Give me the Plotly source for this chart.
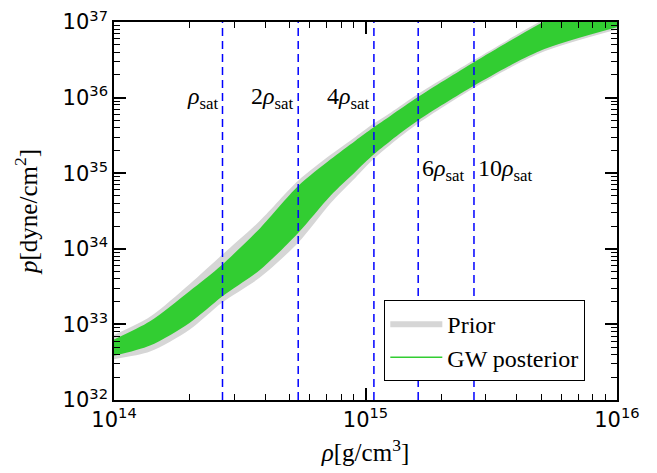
import numpy as np
import plotly.graph_objects as go

# log10 of density [g/cm^3] grid
log_rho = [14.0, 14.143, 14.3, 14.43, 14.58, 14.732, 14.86, 14.96, 15.03, 15.10, 15.21, 15.433, 15.695, 16.0]
# GW posterior band (log10 p, dyne/cm^2)
gw_upper = [32.80, 33.04, 33.44, 33.79, 34.27, 34.83, 35.18, 35.43, 35.60, 35.76, 36.01, 36.47, 36.98, 37.50]
gw_lower = [32.585, 32.72, 33.02, 33.37, 33.72, 34.21, 34.70, 35.02, 35.24, 35.43, 35.70, 36.16, 36.62, 36.93]
# Prior band
prior_upper = [32.86, 33.10, 33.53, 33.92, 34.37, 34.90, 35.24, 35.48, 35.65, 35.80, 36.05, 36.50, 37.01, 37.53]
prior_lower = [32.54, 32.64, 32.93, 33.29, 33.62, 34.08, 34.60, 34.94, 35.18, 35.38, 35.66, 36.13, 36.59, 36.90]

# decade tick labels
x_decades = [14, 15, 16]
y_decades = [32, 33, 34, 35, 36, 37]

rho_sat = 2.7e14
sat_multiples = [1, 2, 4, 6, 10]
sat_labels = ["<i>ρ</i><sub>sat</sub>", "2<i>ρ</i><sub>sat</sub>", "4<i>ρ</i><sub>sat</sub>",
              "6<i>ρ</i><sub>sat</sub>", "10<i>ρ</i><sub>sat</sub>"]
label_side = ["left", "left", "left", "right", "right"]
label_logp = [36.0, 36.0, 36.0, 35.04, 35.04]

rho = [10 ** v for v in log_rho]
p = lambda arr: [10 ** v for v in arr]

SERIF = "Liberation Serif, DejaVu Serif, serif"
SANS = "DejaVu Sans, sans-serif"
GRAY = "rgb(214,214,214)"
GREEN = "rgb(50,205,50)"
SM = 0.8
EPS = 1e-4

fig = go.Figure()
fig.add_trace(go.Scatter(x=rho, y=p(prior_lower), mode="lines", line=dict(width=0, color=GRAY, shape="spline", smoothing=SM),
                         showlegend=False, hoverinfo="skip"))
fig.add_trace(go.Scatter(x=rho, y=p(prior_upper), mode="lines", line=dict(width=0, color=GRAY, shape="spline", smoothing=SM),
                         fill="tonexty", fillcolor=GRAY, name="Prior", showlegend=True, legendrank=1))
fig.add_trace(go.Scatter(x=rho, y=p(gw_lower), mode="lines", line=dict(width=0, color=GREEN, shape="spline", smoothing=SM),
                         showlegend=False, hoverinfo="skip"))
fig.add_trace(go.Scatter(x=rho, y=p(gw_upper), mode="lines", line=dict(width=0, color=GREEN, shape="spline", smoothing=SM),
                         fill="tonexty", fillcolor=GREEN, showlegend=False))
fig.add_trace(go.Scatter(x=[None], y=[None], mode="lines", line=dict(width=1.5, color=GREEN),
                         name="GW posterior", legendrank=2))

for m, lab, side, lp in zip(sat_multiples, sat_labels, label_side, label_logp):
    xv = m * rho_sat
    fig.add_trace(go.Scatter(x=[xv, xv], y=[1e32, 1e37], mode="lines",
                             line=dict(color="blue", width=1.5, dash="8px,5px"),
                             showlegend=False, hoverinfo="skip"))
    fig.add_annotation(x=np.log10(xv), y=lp, text=lab, showarrow=False,
                       xanchor="right" if side == "left" else "left",
                       xshift=-2 if side == "left" else 2,
                       font=dict(family=SERIF, size=24, color="black"))

def minor_vals(d0, d1):
    return [k * 10.0 ** d for d in range(d0, d1) for k in range(2, 10)]

def major_axis(decades):
    return dict(tickmode="array", tickvals=[10.0 ** d for d in decades],
                ticktext=[f"10<sup>{d}</sup>" for d in decades])

axis_common = dict(
    type="log", showgrid=False, zeroline=False, showline=True, linecolor="black", linewidth=1.5,
    mirror="ticks", ticks="inside", ticklen=12, tickwidth=1.5, tickcolor="black",
    automargin=False, ticklabeloverflow="allow",
    tickfont=dict(family=SANS, size=21, color="black"),
)
minor_common = dict(ticks="inside", ticklen=6, tickcolor="black", tickwidth=1.2, showgrid=False, tickmode="array")

fig.update_xaxes(range=[14 - EPS, 16 + EPS],
                 title=dict(text="<i>ρ</i>[g/cm<sup>3</sup>]", font=dict(family=SERIF, size=25, color="black"), standoff=13),
                 minor=dict(tickvals=minor_vals(14, 16), **minor_common),
                 **major_axis(x_decades), **axis_common)
fig.update_yaxes(range=[32 - EPS, 37 + EPS],
                 title=dict(text="<i>p</i>[dyne/cm<sup>2</sup>]", font=dict(family=SERIF, size=25, color="black"), standoff=18),
                 minor=dict(tickvals=minor_vals(32, 37), **minor_common),
                 **major_axis(y_decades), **axis_common)

fig.update_layout(
    width=649, height=465,
    margin=dict(l=106, r=40, t=14, b=73),
    paper_bgcolor="white", plot_bgcolor="white",
    legend=dict(x=0.537, y=0.265, xanchor="left", yanchor="top", bgcolor="white",
                bordercolor="black", borderwidth=1.2, traceorder="normal",
                font=dict(family=SERIF, size=24, color="black"), itemwidth=52),
)

fig.write_html("out.html")
